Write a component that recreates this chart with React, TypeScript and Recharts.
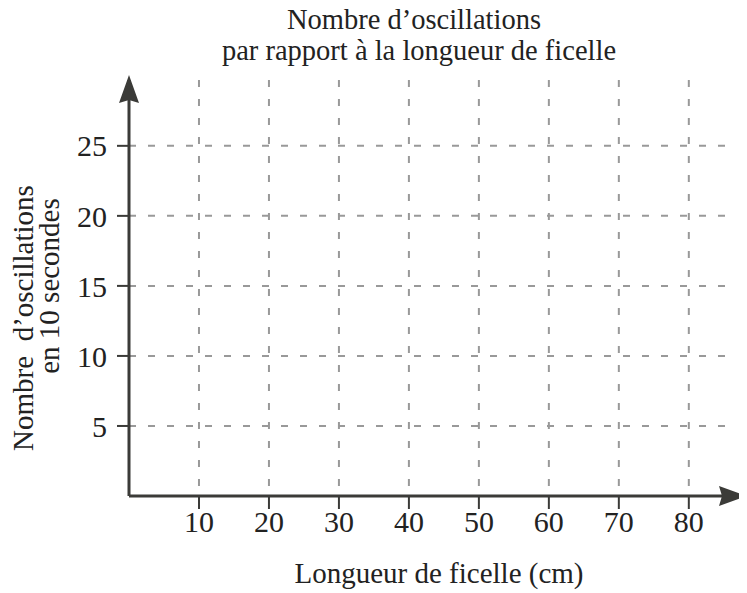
import React from 'react';
import { ScatterChart, Scatter, XAxis, YAxis, CartesianGrid } from 'recharts';

// worksheet grid: no measurements plotted yet
const xTicks = [10, 20, 30, 40, 50, 60, 70, 80];
const yTicks = [5, 10, 15, 20, 25];
const xDomain = [0, 86.6];
const yDomain = [0, 29.7];
const measurements: { length: number; oscillations: number }[] = [];

const titleLines = ['Nombre d\u2019oscillations', 'par rapport à la longueur de ficelle'];
const xLabel = 'Longueur de ficelle (cm)';
const yLabelLines = ['Nombre\u00a0 d\u2019oscillations', 'en 10 secondes'];

const FONT = '"Liberation Serif", "Times New Roman", serif';
const INK = '#222';
const AXIS = '#3b3b38';

function YLabel() {
  return (
    <g fontFamily={FONT} fill={INK}>
      <text x={414} y={29} fontSize={28.5} textAnchor="middle">{titleLines[0]}</text>
      <text x={419} y={60} fontSize={28.5} textAnchor="middle">{titleLines[1]}</text>
      <text x={33} y={318} fontSize={29} textAnchor="middle" transform="rotate(-90 33 318)">{yLabelLines[0]}</text>
      <text x={59} y={286} fontSize={29} textAnchor="middle" transform="rotate(-90 59 286)">{yLabelLines[1]}</text>
    </g>
  );
}

function XLabel() {
  return (
    <text x={439} y={583} textAnchor="middle" fontFamily={FONT} fontSize={29} fill={INK}>
      {xLabel}
    </text>
  );
}

// only grid lines at the tick values (no border lines)
const hLines = ({ yAxis, offset }: any) =>
  yTicks.map((t) =>
    typeof yAxis?.scale === 'function'
      ? yAxis.scale(t)
      : offset.top + offset.height * (1 - (t - yDomain[0]) / (yDomain[1] - yDomain[0]))
  );
const vLines = ({ xAxis, offset }: any) =>
  xTicks.map((t) =>
    typeof xAxis?.scale === 'function'
      ? xAxis.scale(t)
      : offset.left + (offset.width * (t - xDomain[0])) / (xDomain[1] - xDomain[0])
  );

export default function App() {
  return (
    <div style={{ position: 'relative', width: 739, height: 585 }}>
      <svg width={0} height={0} style={{ position: 'absolute' }}>
        <defs>
          <marker id="arrowUp" viewBox="0 0 28 20" refX={23} refY={10} markerWidth={28} markerHeight={20}
            markerUnits="userSpaceOnUse" orient="auto-start-reverse">
            <path d="M0,0 L28,10 L0,20 L3,10 z" fill={AXIS} />
          </marker>
          <marker id="arrowRight" viewBox="0 0 28 20" refX={16} refY={10} markerWidth={28} markerHeight={20}
            markerUnits="userSpaceOnUse" orient="auto">
            <path d="M0,0 L28,10 L0,20 L3,10 z" fill={AXIS} />
          </marker>
        </defs>
      </svg>
      <div style={{ position: 'absolute', left: -8, top: -8, width: 747, height: 593 }}>
        <ScatterChart width={747} height={593} margin={{ top: 80, right: 12, left: 0, bottom: 0 }}>
          <CartesianGrid
            stroke="#999"
            strokeWidth={2}
            strokeDasharray="7 12"
            horizontalCoordinatesGenerator={hLines}
            verticalCoordinatesGenerator={vLines}
          />
          <XAxis
            type="number"
            dataKey="length"
            domain={xDomain}
            ticks={xTicks}
            height={97}
            tickSize={13}
            tickMargin={2}
            tick={{ fontFamily: FONT, fontSize: 30, fill: INK }}
            tickLine={{ stroke: AXIS, strokeWidth: 2 }}
            axisLine={{ stroke: AXIS, strokeWidth: 3, markerEnd: 'url(#arrowRight)' }}
            allowDataOverflow
            label={<XLabel />}
          />
          <YAxis
            type="number"
            dataKey="oscillations"
            domain={yDomain}
            ticks={yTicks}
            width={129}
            tickSize={12}
            tickMargin={10}
            tick={{ fontFamily: FONT, fontSize: 30, fill: INK }}
            tickLine={{ stroke: AXIS, strokeWidth: 2 }}
            axisLine={{ stroke: AXIS, strokeWidth: 3, markerStart: 'url(#arrowUp)' }}
            allowDataOverflow
            label={<YLabel />}
          />
          <Scatter data={measurements} fill={AXIS} isAnimationActive={false} />
        </ScatterChart>
      </div>
    </div>
  );
}
